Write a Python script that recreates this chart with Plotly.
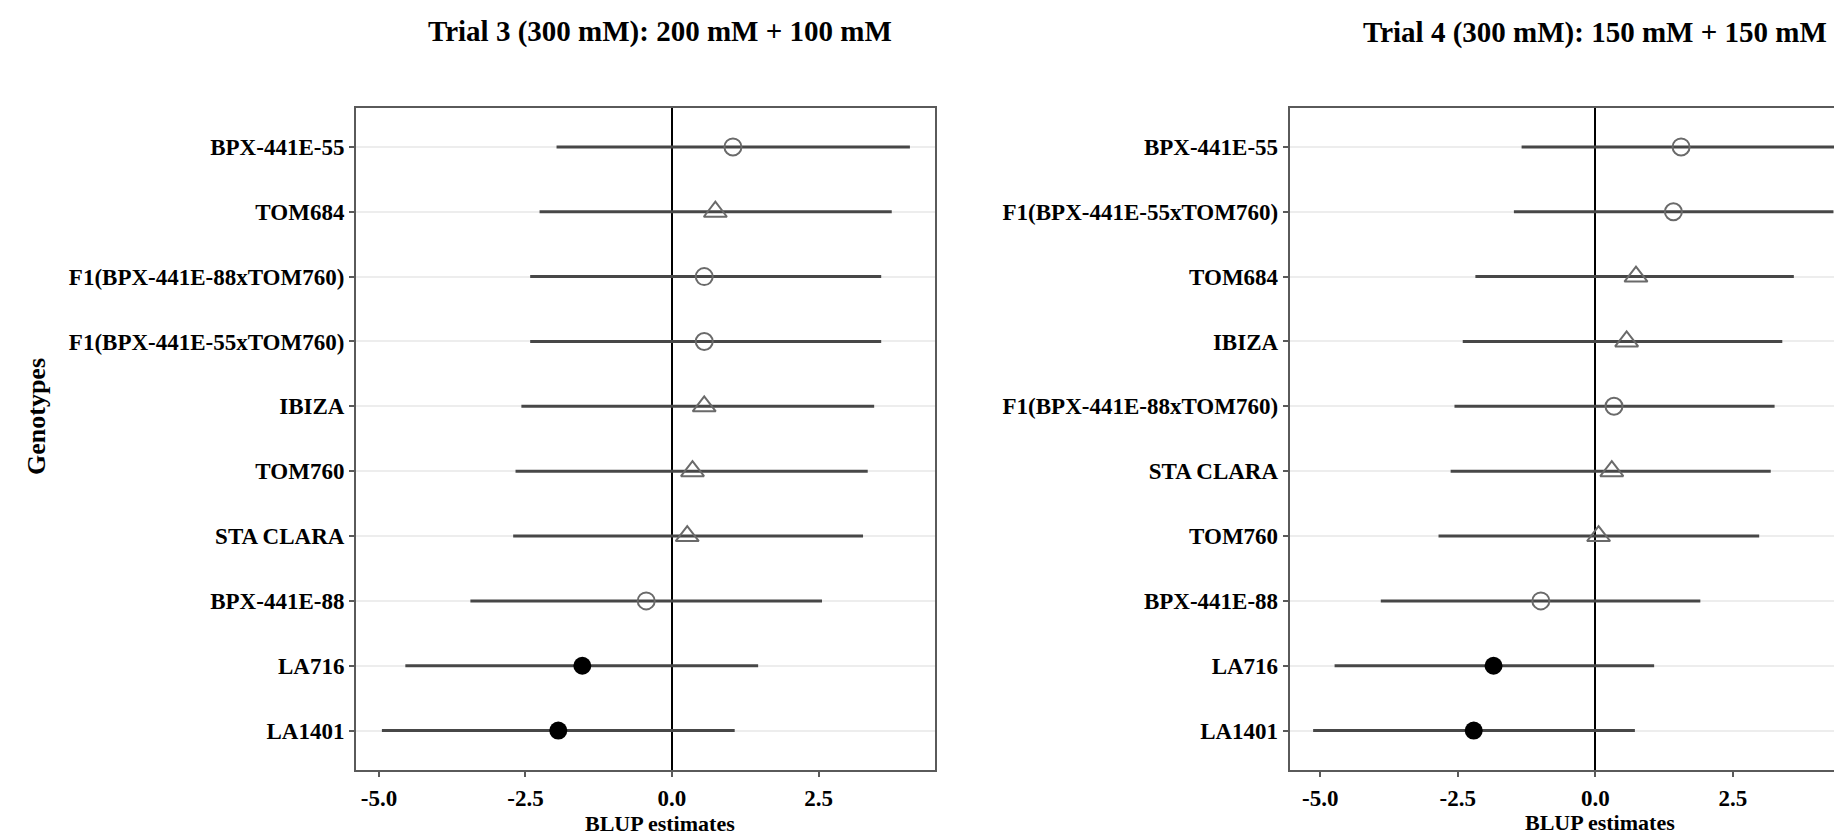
import plotly.graph_objects as go

# ---------------- data ----------------
genotypes_t3 = ["BPX-441E-55", "TOM684", "F1(BPX-441E-88xTOM760)", "F1(BPX-441E-55xTOM760)",
                "IBIZA", "TOM760", "STA CLARA", "BPX-441E-88", "LA716", "LA1401"]
blup_t3 = [1.04, 0.74, 0.55, 0.55, 0.55, 0.35, 0.26, -0.44, -1.53, -1.94]
lower_t3 = [-1.97, -2.26, -2.42, -2.42, -2.57, -2.67, -2.71, -3.44, -4.55, -4.95]
upper_t3 = [4.06, 3.75, 3.57, 3.57, 3.45, 3.34, 3.26, 2.56, 1.47, 1.07]

genotypes_t4 = ["BPX-441E-55", "F1(BPX-441E-55xTOM760)", "TOM684", "IBIZA",
                "F1(BPX-441E-88xTOM760)", "STA CLARA", "TOM760", "BPX-441E-88", "LA716", "LA1401"]
blup_t4 = [1.56, 1.42, 0.74, 0.57, 0.34, 0.30, 0.06, -0.99, -1.85, -2.21]
lower_t4 = [-1.34, -1.48, -2.18, -2.41, -2.56, -2.63, -2.85, -3.90, -4.74, -5.13]
upper_t4 = [4.51, 4.33, 3.61, 3.40, 3.26, 3.19, 2.98, 1.91, 1.07, 0.72]

genotype_group = {
    "BPX-441E-55": "line", "BPX-441E-88": "line",
    "F1(BPX-441E-88xTOM760)": "line", "F1(BPX-441E-55xTOM760)": "line",
    "TOM684": "cultivar", "IBIZA": "cultivar", "TOM760": "cultivar", "STA CLARA": "cultivar",
    "LA716": "wild", "LA1401": "wild",
}

x_tickvals = [-5.0, -2.5, 0.0, 2.5]
x_ticktext = ["-5.0", "-2.5", "0.0", "2.5"]

title_t3 = "Trial 3 (300 mM): 200 mM + 100 mM"
title_t4 = "Trial 4 (300 mM): 150 mM + 150 mM"
x_title = "BLUP estimates"
y_title = "Genotypes"

# ---------------- styles ----------------
W, H = 1842, 836
FONT = "Liberation Serif"
group_style = {
    "line": dict(symbol="circle-open", size=17, color="#6a6a6a", line=dict(width=2, color="#6a6a6a")),
    "cultivar": dict(symbol="triangle-up-open", size=20, color="#6a6a6a", line=dict(width=2, color="#6a6a6a")),
    "wild": dict(symbol="circle", size=18, color="black", line=dict(width=0)),
}

fig = go.Figure()


def add_panel(cats, est, lo, hi, xa, ya):
    xs, ys = [], []
    for c, l, h in zip(cats, lo, hi):
        xs += [l, h, None]
        ys += [c, c, None]
    fig.add_trace(go.Scatter(x=xs, y=ys, mode="lines", line=dict(color="#474747", width=3),
                             xaxis=xa, yaxis=ya, showlegend=False, hoverinfo="skip"))
    for g, st in group_style.items():
        idx = [i for i, c in enumerate(cats) if genotype_group[c] == g]
        fig.add_trace(go.Scatter(x=[est[i] for i in idx], y=[cats[i] for i in idx],
                                 mode="markers", marker=st, xaxis=xa, yaxis=ya,
                                 showlegend=False))


add_panel(genotypes_t3, blup_t3, lower_t3, upper_t3, "x", "y")
add_panel(genotypes_t4, blup_t4, lower_t4, upper_t4, "x2", "y2")

ydom = [1 - 761.5 / H, 1 - 100 / H]
common_x = dict(tickvals=x_tickvals, ticktext=x_ticktext, showgrid=False,
                zeroline=True, zerolinecolor="black", zerolinewidth=1.5,
                showline=True, mirror=True, linecolor="#5a5a5a", linewidth=2,
                ticks="outside", ticklen=5, tickcolor="#5a5a5a", tickwidth=1.5,
                tickfont=dict(family=FONT, size=23, color="black", weight="bold"),
                ticklabelstandoff=2)
common_y = dict(domain=ydom, showgrid=True, gridcolor="#ededed", gridwidth=2,
                showline=True, linecolor="#5a5a5a", linewidth=2,
                ticks="outside", ticklen=5, tickcolor="#5a5a5a", tickwidth=1.5,
                tickfont=dict(family=FONT, size=23, color="black", weight="bold"),
                range=[9.6, -0.6], autorange=False, zeroline=False)

fig.update_layout(
    width=W, height=H,
    margin=dict(l=0, r=0, t=0, b=0),
    paper_bgcolor="white", plot_bgcolor="white",
    font=dict(family=FONT, color="black"),
    xaxis=dict(domain=[348 / W, 927 / W], range=[-5.392, 4.488], anchor="y", **common_x),
    yaxis=dict(anchor="x", mirror=True, categoryorder="array", categoryarray=genotypes_t3,
               type="category", **common_y),
    xaxis2=dict(domain=[1281.7 / W, 1.0], range=[-5.556, 4.631], anchor="y2", **common_x),
    yaxis2=dict(anchor="x2", mirror=False, categoryorder="array", categoryarray=genotypes_t4,
                type="category", **common_y),
    annotations=[
        dict(text=title_t3, x=652 / W, y=1 - 23 / H, xref="paper", yref="paper",
             showarrow=False, xanchor="center", yanchor="middle",
             font=dict(family=FONT, size=29, color="black", weight="bold")),
        dict(text=title_t4, x=1587 / W, y=1 - 25 / H, xref="paper", yref="paper",
             showarrow=False, xanchor="center", yanchor="middle",
             font=dict(family=FONT, size=29, color="black", weight="bold")),
        dict(text=x_title, x=652 / W, y=1 - 815 / H, xref="paper", yref="paper",
             showarrow=False, xanchor="center", yanchor="middle",
             font=dict(family=FONT, size=22, color="black", weight="bold")),
        dict(text=x_title, x=1592 / W, y=1 - 814 / H, xref="paper", yref="paper",
             showarrow=False, xanchor="center", yanchor="middle",
             font=dict(family=FONT, size=22, color="black", weight="bold")),
        dict(text=y_title, x=28 / W, y=1 - 409 / H, xref="paper", yref="paper",
             showarrow=False, xanchor="center", yanchor="middle", textangle=-90,
             font=dict(family=FONT, size=26, color="black", weight="bold")),
    ],
)

fig.write_html("out.html")
